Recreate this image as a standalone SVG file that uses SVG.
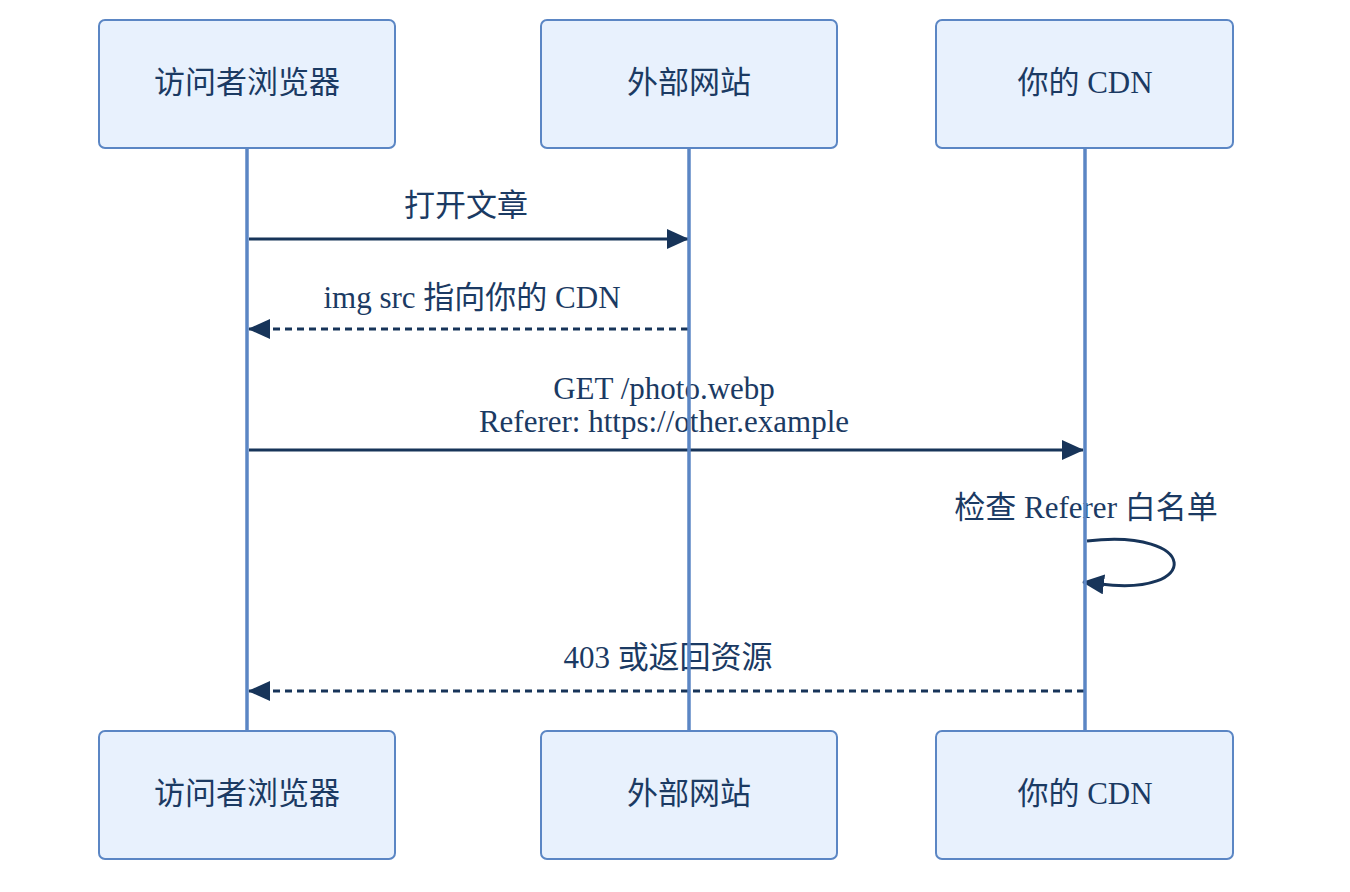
<svg xmlns="http://www.w3.org/2000/svg" width="1350" height="892" viewBox="0 0 1350 892">
<style>
.box{fill:#e8f1fd;stroke:#5b86c4;stroke-width:2}
.life{stroke:#5b86c4;stroke-width:3.5}
.t{font-family:"Liberation Serif","Noto Sans CJK SC",serif;font-size:31px;fill:#1b3a63;text-anchor:middle;dominant-baseline:central}
.lbl{font-family:"Liberation Serif","Noto Sans CJK SC",serif;font-size:31px;fill:#1b3a63;text-anchor:middle;dominant-baseline:central}
.msg{stroke:#173459;stroke-width:3;fill:none}
.dash{stroke-dasharray:7 5}
</style>
<defs>
<marker id="ah" viewBox="0 0 22 20" markerUnits="userSpaceOnUse" markerWidth="22" markerHeight="20" refX="21" refY="10" orient="auto">
<path d="M0,0 L22,10 L0,20 z" fill="#173459"/>
</marker>
</defs>
<rect width="1350" height="892" fill="#ffffff"/>
<g id="messages-labels">
<text class="lbl" x="466" y="205">打开文章</text>
<text class="lbl" x="472" y="297">img src 指向你的 CDN</text>
<text class="lbl" x="664" y="388">GET /photo.webp</text>
<text class="lbl" x="664" y="421">Referer: https://other.example</text>
<text class="lbl" x="1086" y="507">检查 Referer 白名单</text>
<text class="lbl" x="668" y="657">403 或返回资源</text>
</g>
<g id="connectors">
<path class="msg" d="M249,239 L688,239" marker-end="url(#ah)"/>
<path class="msg dash" d="M688,329 L249,329" marker-end="url(#ah)"/>
<path class="msg" d="M249,450 L1083,450" marker-end="url(#ah)"/>
<path class="msg" d="M1087,541 C1200,528 1202,597 1100,584 L1083,582" marker-end="url(#ah)"/>
<path class="msg dash" d="M1084,691 L249,691" marker-end="url(#ah)"/>
</g>
<g id="lifelines">
<line class="life" x1="247" y1="148" x2="247" y2="731"/>
<line class="life" x1="689" y1="148" x2="689" y2="731"/>
<line class="life" x1="1085" y1="148" x2="1085" y2="731"/>
</g>
<g id="browser-top"><rect class="box" x="99" y="20" width="296" height="128" rx="6"/><text class="t" x="247" y="82">访问者浏览器</text></g>
<g id="site-top"><rect class="box" x="541" y="20" width="296" height="128" rx="6"/><text class="t" x="689" y="82">外部网站</text></g>
<g id="cdn-top"><rect class="box" x="936" y="20" width="297" height="128" rx="6"/><text class="t" x="1085" y="82">你的 CDN</text></g>
<g id="browser-bottom"><rect class="box" x="99" y="731" width="296" height="128" rx="6"/><text class="t" x="247" y="793">访问者浏览器</text></g>
<g id="site-bottom"><rect class="box" x="541" y="731" width="296" height="128" rx="6"/><text class="t" x="689" y="793">外部网站</text></g>
<g id="cdn-bottom"><rect class="box" x="936" y="731" width="297" height="128" rx="6"/><text class="t" x="1085" y="793">你的 CDN</text></g>
</svg>
